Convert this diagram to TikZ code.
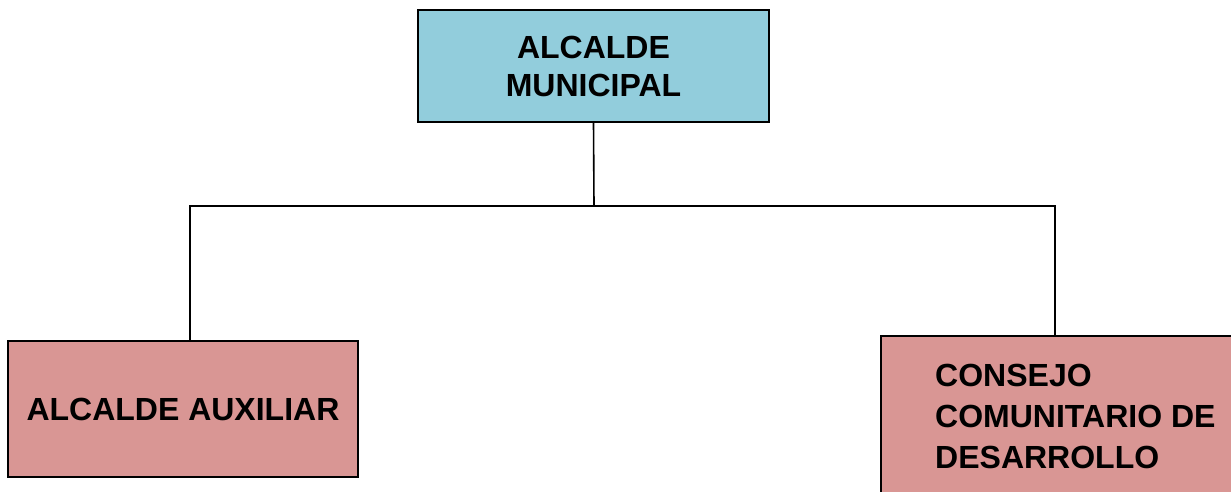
\documentclass[tikz,border=0pt]{standalone}
\usepackage{fontspec}
\setmainfont{Liberation Sans}
\usepackage{tikz}
\usetikzlibrary{%
	calc,%
	positioning
}
\definecolor{alcalde-blue}{HTML}{92CDDC}
\definecolor{alcalde-pink}{HTML}{D99694}

\begin{document}
\begin{tikzpicture}[x=1pt,y=-1pt,
		box/.style={draw=black,line width=1.6pt,inner sep=0pt},
		boxtext/.style={font=\fontsize{32}{38}\selectfont\bfseries,inner sep=0pt},
		link/.style={black,line width=1.6pt}
	]
		\path[use as bounding box,clip] (0,0) rectangle (1231,491);

		% Boxes
		\node[box,fill=alcalde-blue,minimum width=351pt,minimum height=112pt,
			boxtext,align=center] (municipal) at (593.5,66) {ALCALDE\\MUNICIPAL};
		\node[box,fill=alcalde-pink,minimum width=350pt,minimum height=136pt,
			boxtext] (auxiliar) at (183,409) {ALCALDE AUXILIAR};
		\node[box,fill=alcalde-pink,minimum width=352pt,minimum height=164pt]
			(consejo) at (1057,418) {};
		\node[boxtext,font=\fontsize{32}{41}\selectfont\bfseries,align=left,
			anchor=west] (consejotext) at (935,416) {CONSEJO\\COMUNITARIO DE\\DESARROLLO};

		% Connectors
		\coordinate (mid) at (594,206);
		\coordinate (left) at (190,206);
		\coordinate (right) at (1055,206);
		\draw[link] (municipal.south) -- (mid);
		\draw[link] (left |- auxiliar.north) -- (left) -- (right) -- (right |- consejo.north);

	\end{tikzpicture}
\end{document}
